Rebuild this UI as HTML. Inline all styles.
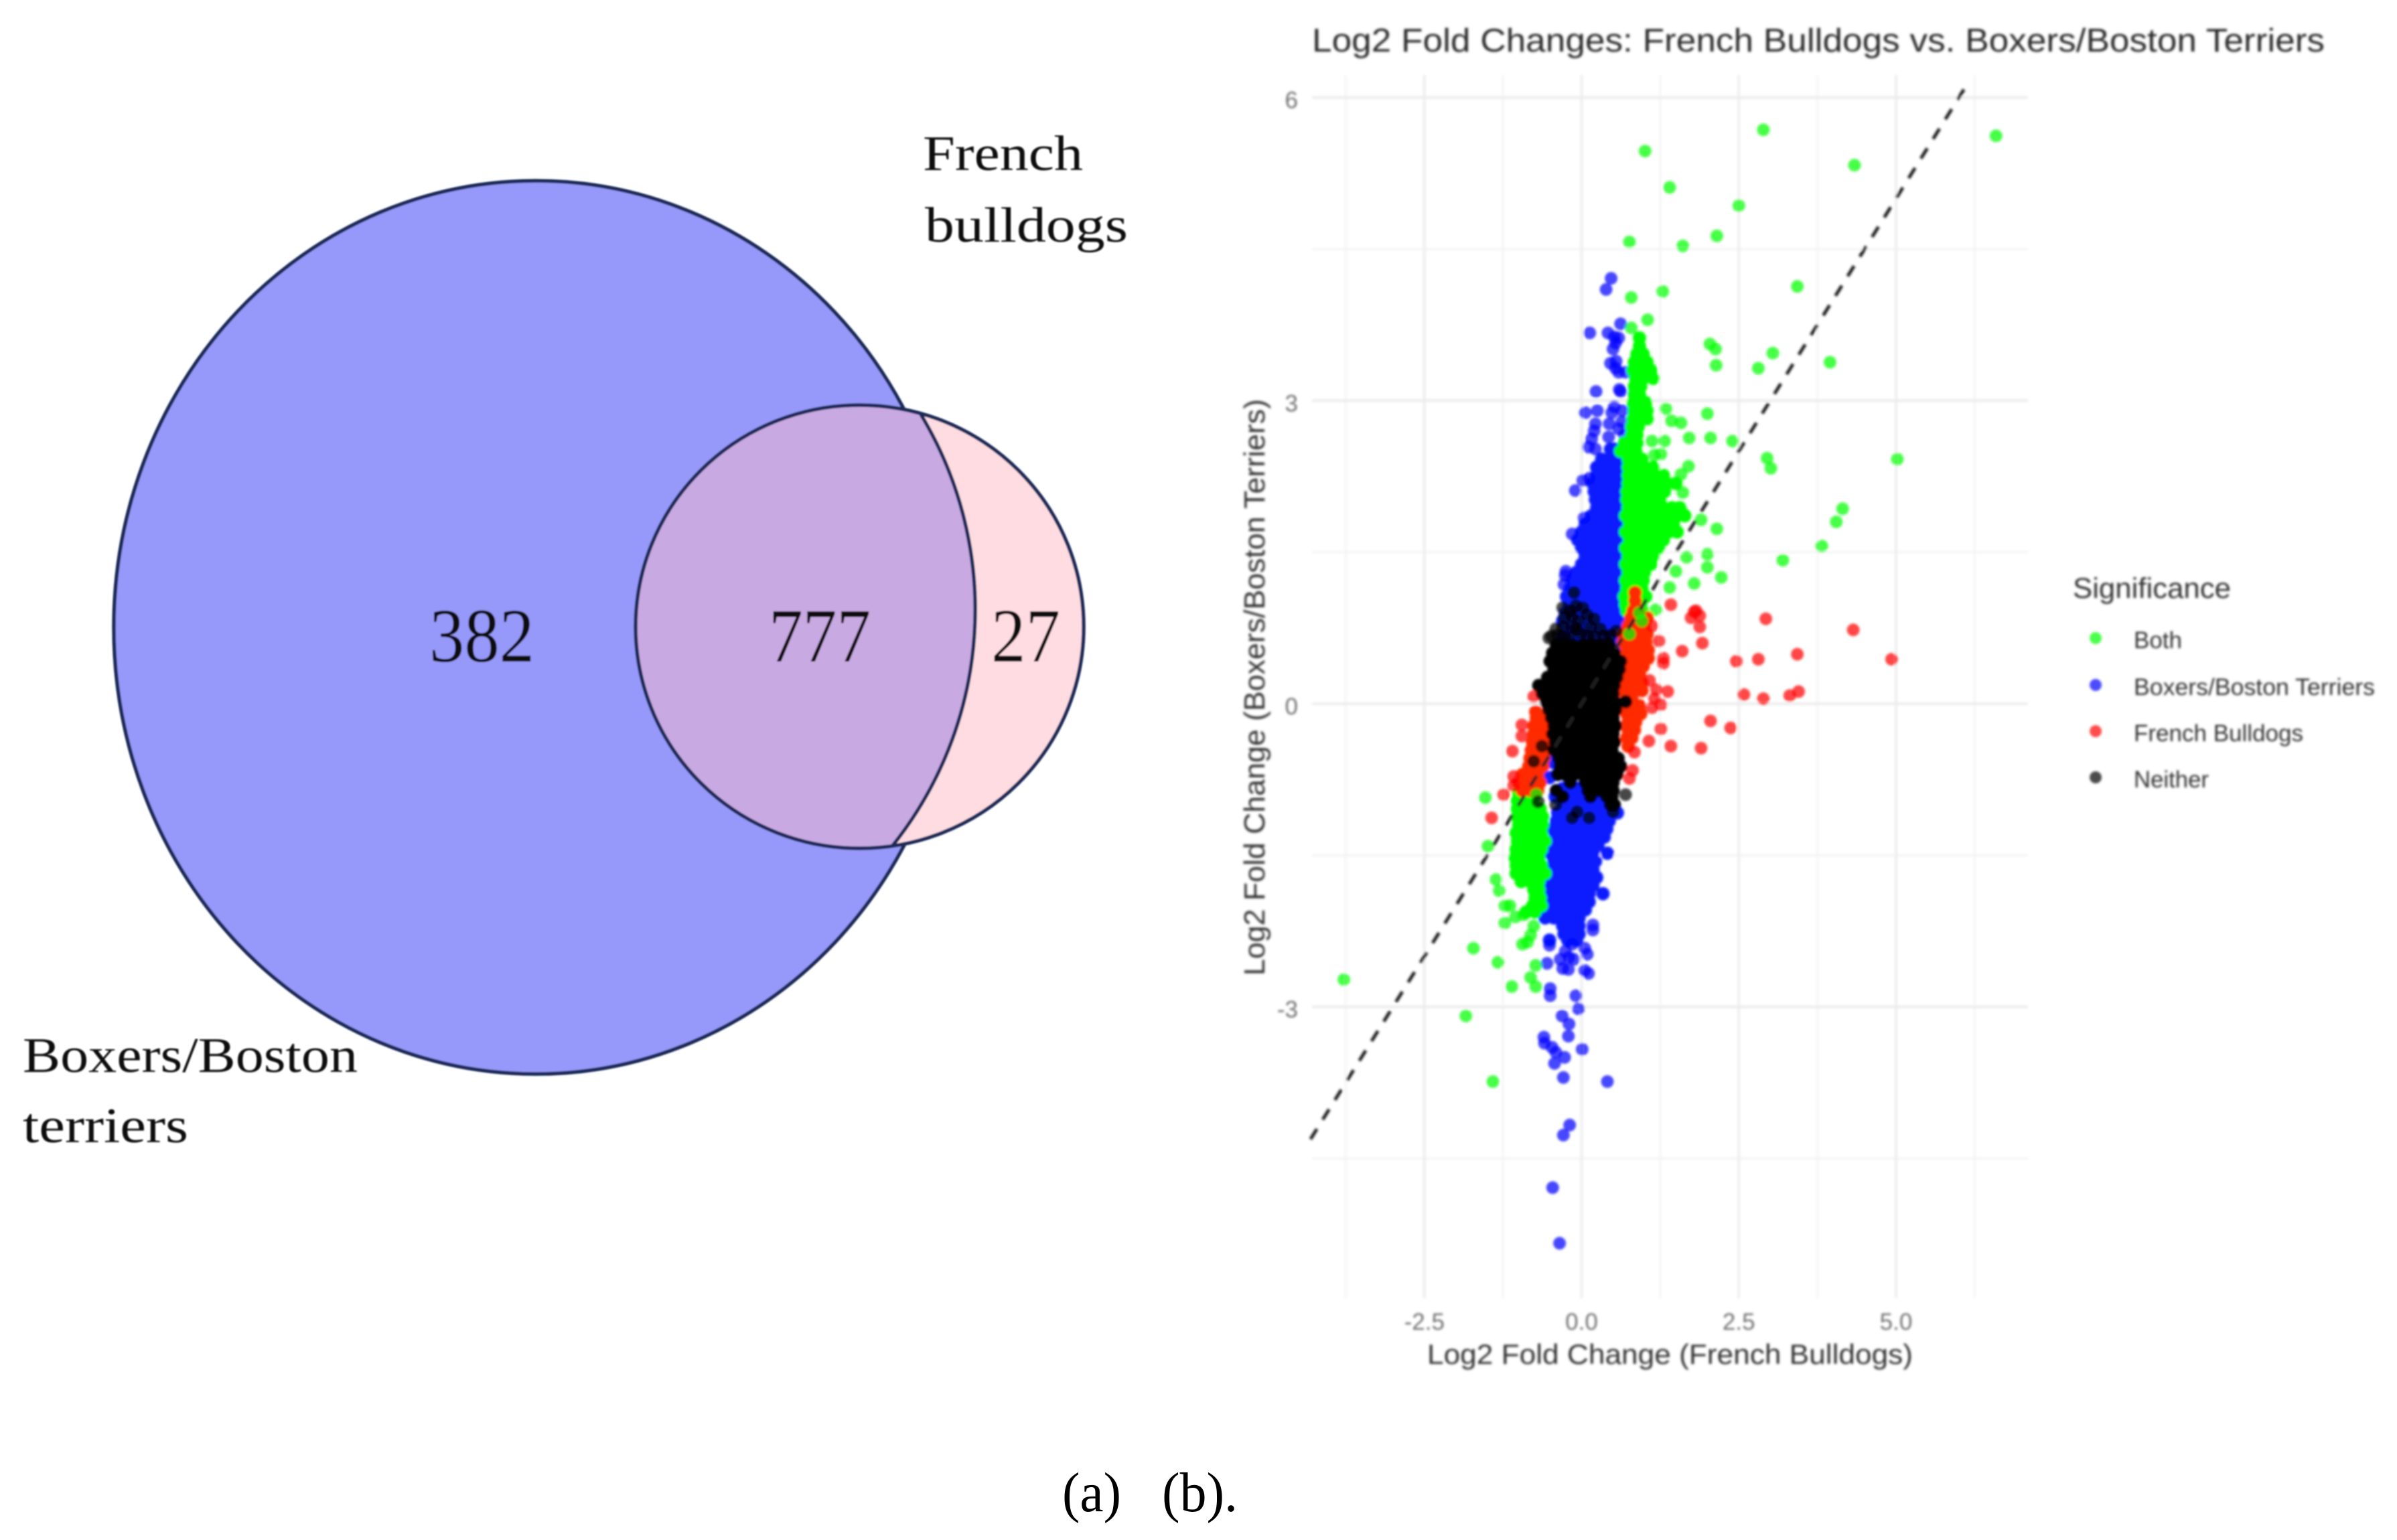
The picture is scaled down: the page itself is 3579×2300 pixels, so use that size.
<!DOCTYPE html>
<html lang="en">
<head>
<meta charset="utf-8">
<title>Venn diagram and Log2 fold change scatter</title>
<style>
html,body{margin:0;padding:0;background:#fff;width:3579px;height:2300px;overflow:hidden}
svg{display:block;position:absolute;left:0;top:0}
text{font-family:"Liberation Sans",sans-serif}
.serif{font-family:"Liberation Serif",serif;fill:#0a0a0a}
</style>
</head>
<body>
<svg id="figure" width="3579" height="2300" viewBox="0 0 3579 2300" xmlns="http://www.w3.org/2000/svg">
<defs>
<filter id="softChart" x="-2%" y="-2%" width="104%" height="104%"><feGaussianBlur stdDeviation="1.9"/></filter>
<filter id="softVenn" x="-2%" y="-2%" width="104%" height="104%"><feGaussianBlur stdDeviation="1"/></filter>
<clipPath id="panelClip"><rect x="1950" y="100" width="1085" height="1845"/></clipPath>
</defs>
<rect width="3579" height="2300" fill="#ffffff"/>

<g id="venn" filter="url(#softVenn)">
  <ellipse cx="800" cy="937" rx="630" ry="667" fill="#9699fa" stroke="#1c2a58" stroke-width="5.5"/>
  <ellipse cx="1283.5" cy="936" rx="334.5" ry="331" fill="#ffdce2"/>
  <path d="M1375 619 A565 565 0 0 1 1332 1264 A334.5 331 0 1 1 1375 619 Z" fill="#c8a9e2" stroke="none"/>
  <path d="M1375 619 A565 565 0 0 1 1332 1264" fill="none" stroke="#1c2a58" stroke-width="5.5"/>
  <ellipse cx="1283.5" cy="936" rx="334.5" ry="331" fill="none" stroke="#1c2a58" stroke-width="5.5"/>
  <text class="serif" x="641" y="988" font-size="114" textLength="157" lengthAdjust="spacingAndGlyphs">382</text>
  <text class="serif" x="1148" y="988" font-size="114" textLength="152" lengthAdjust="spacingAndGlyphs">777</text>
  <text class="serif" x="1480" y="988" font-size="114" textLength="103" lengthAdjust="spacingAndGlyphs">27</text>
  <text class="serif" x="1378" y="254" font-size="74" textLength="239" lengthAdjust="spacingAndGlyphs">French</text>
  <text class="serif" x="1381" y="361" font-size="74" textLength="303" lengthAdjust="spacingAndGlyphs">bulldogs</text>
  <text class="serif" x="34" y="1601" font-size="74" textLength="500" lengthAdjust="spacingAndGlyphs">Boxers/Boston</text>
  <text class="serif" x="34" y="1706" font-size="74" textLength="247" lengthAdjust="spacingAndGlyphs">terriers</text>
</g>

<g id="chart" filter="url(#softChart)">
  <g id="grid"></g>
  <g id="points" clip-path="url(#panelClip)"></g>
  <g id="refline"></g>
  <g id="ticks"></g>
  <text x="1959" y="77" font-size="49" fill="#2b2b2b" textLength="1512" lengthAdjust="spacingAndGlyphs">Log2 Fold Changes: French Bulldogs vs. Boxers/Boston Terriers</text>
  <text x="2131" y="2037" font-size="42" fill="#333333" textLength="725" lengthAdjust="spacingAndGlyphs">Log2 Fold Change (French Bulldogs)</text>
  <text transform="translate(1888,1457) rotate(-90)" x="0" y="0" font-size="44" fill="#333333" textLength="861" lengthAdjust="spacingAndGlyphs">Log2 Fold Change (Boxers/Boston Terriers)</text>
  <g>
    <text x="3095" y="893" font-size="43" fill="#333333" textLength="236" lengthAdjust="spacingAndGlyphs">Significance</text>
    <circle cx="3129" cy="953" r="9" fill="#00ff00" fill-opacity="0.7"/>
    <text x="3186" y="968" font-size="35" fill="#333333" textLength="72" lengthAdjust="spacingAndGlyphs">Both</text>
    <circle cx="3129" cy="1023" r="9" fill="#0000ff" fill-opacity="0.7"/>
    <text x="3186" y="1038" font-size="35" fill="#333333" textLength="360" lengthAdjust="spacingAndGlyphs">Boxers/Boston Terriers</text>
    <circle cx="3129" cy="1092" r="9" fill="#ff0000" fill-opacity="0.7"/>
    <text x="3186" y="1107" font-size="35" fill="#333333" textLength="253" lengthAdjust="spacingAndGlyphs">French Bulldogs</text>
    <circle cx="3129" cy="1161" r="9" fill="#000000" fill-opacity="0.7"/>
    <text x="3186" y="1176" font-size="35" fill="#333333" textLength="112" lengthAdjust="spacingAndGlyphs">Neither</text>
  </g>
</g>

<text class="serif" x="1586" y="2257" font-size="84" textLength="88" lengthAdjust="spacingAndGlyphs" style="fill:#000">(a)</text>
<text class="serif" x="1735" y="2257" font-size="84" textLength="113" lengthAdjust="spacingAndGlyphs" style="fill:#000">(b).</text>
</svg>

<script>
// Axis ticks
const xTickValues = [-2.5, 0, 2.5, 5];
const xTickLabels = ["-2.5", "0.0", "2.5", "5.0"];
const yTickValues = [-3, 0, 3, 6];
const yTickLabels = ["-3", "0", "3", "6"];
const xMinorValues = [-3.75, -1.25, 1.25, 3.75, 6.25];
const yMinorValues = [-4.5, -1.5, 1.5, 4.5];
const refLineEnds = [-4.31, 6.15];

// Isolated points as [log2FC French, log2FC Boxers]
const bothOutliers = [
[2.89,5.68],[6.59,5.62],[1.01,5.47],[4.34,5.33],[1.40,5.11],[2.50,4.93],[2.15,4.63],[0.76,4.57],[1.61,4.53],[3.43,4.13],
[1.29,4.08],[0.79,4.02],[1.05,3.80],[0.79,3.72],[2.04,3.56],[2.13,3.51],[2.14,3.35],[3.04,3.47],[2.81,3.32],[3.95,3.38],
[2.00,2.87],[1.34,2.92],[1.43,2.80],[1.58,2.78],[1.71,2.63],[2.05,2.63],[2.40,2.60],[2.95,2.43],[3.01,2.33],[5.02,2.42],
[4.15,1.93],[4.05,1.80],[3.82,1.56],[3.20,1.42],[1.32,2.60],[1.12,2.60],[1.26,2.47],[1.16,2.46],[1.70,2.35],[1.58,2.27],
[1.61,2.09],[1.64,1.87],[1.90,1.82],[2.15,1.73],[2.00,1.48],[2.00,1.35],[2.22,1.25],[1.79,1.19],[1.67,1.45],[1.50,1.31],
[1.40,1.15],[1.18,0.93],
[-3.78,-2.73],[-1.84,-3.09],[-1.41,-3.74],[-1.11,-2.80],[-1.72,-2.42],[-1.33,-2.56],[-0.73,-2.59],[-0.81,-2.71],[-0.73,-2.80],
[-0.94,-2.38],[-0.86,-2.36],[-0.81,-2.29],[-0.76,-2.20],[-1.22,-2.17],[-1.05,-2.11],[-0.92,-2.09],[-1.22,-2.00],[-1.14,-2.00],
[-1.31,-1.85],[-1.36,-1.74],[-1.49,-1.41],[-1.53,-0.93]
];
const boxersOutliers = [
[0.47,4.21],[0.39,4.10],[0.62,3.76],[0.13,3.67],[0.42,3.67],[0.52,3.63],[0.59,3.62],[0.54,3.57],[0.50,3.51],[0.46,3.37],
[0.55,3.39],[0.54,3.32],[0.59,3.28],[0.70,3.28],[0.60,3.11],[0.62,3.09],[0.23,3.09],[0.06,2.88],[0.25,2.90],[0.52,2.94],
[0.48,2.88],[0.65,2.90],[0.44,2.77],[0.22,2.77],[0.20,2.70],[0.16,2.62],[0.43,2.64],[0.64,2.79],[0.68,2.66],[0.59,2.72],
[0.11,2.54],[0.22,2.52],[-0.10,2.11],[0.02,2.21],[0.12,2.23],[0.04,1.84],[-0.15,1.68],[-0.26,1.27],[-0.28,1.18],[-0.25,1.31],
[0.18,-2.19],[0.18,-2.24],[-0.51,-2.39],[-0.26,-2.45],[-0.15,-2.38],[0.05,-2.42],[0.09,-2.48],[-0.20,-2.51],[-0.12,-2.53],
[-0.34,-2.53],[-0.55,-2.57],[-0.30,-2.62],[-0.21,-2.63],[0.05,-2.64],[0.11,-2.67],[-0.50,-2.82],[-0.50,-2.89],[-0.09,-2.89],
[-0.05,-3.02],[-0.31,-3.09],[-0.20,-3.17],[-0.21,-3.29],[-0.60,-3.30],[-0.59,-3.36],[-0.47,-3.40],[-0.41,-3.45],[-0.27,-3.50],
[0.01,-3.42],[-0.43,-3.56],[-0.29,-3.70],[0.41,-3.74],[-0.19,-4.17],[-0.29,-4.27],[-0.46,-4.79],[-0.35,-5.34]
];
const frenchOutliers = [
[2.93,0.84],[4.32,0.73],[4.93,0.44],[3.43,0.49],[2.81,0.44],[2.46,0.42],[1.82,0.92],[1.79,0.91],[1.88,0.87],[1.74,0.85],
[1.88,0.76],[1.92,0.60],[1.42,0.98],[1.60,0.52],[1.30,0.45],[1.30,0.40],[1.23,0.62],[1.12,0.77],[2.58,0.09],[2.89,0.05],
[3.31,0.08],[3.45,0.12],[1.37,0.12],[1.19,0.14],[1.08,0.23],[1.16,0.05],[1.26,-0.01],[1.12,-0.04],[1.26,-0.25],[1.07,-0.37],
[1.42,-0.42],[1.90,-0.44],[2.05,-0.17],[2.37,-0.24],[0.84,-0.48],[0.81,-0.66],[0.76,-0.74],[-0.76,0.07],[-0.95,-0.21],
[-0.95,-0.32],[-1.10,-0.47],[-1.08,-0.72],[-1.08,-0.81],[-1.24,-0.90],[-1.43,-1.13]
];
const bothOverFrench = [[0.96,0.82],[0.76,0.69],[0.92,0.90],[-0.72,-0.90]];
const neitherOutliers = [
[-0.12,1.10],[-0.09,0.97],[0.09,0.88],[-0.15,0.87],[-0.04,0.82],[-0.48,0.67],[-0.41,0.74],[-0.52,0.65],[0.55,0.72],
[-0.15,0.76],[-0.20,0.65],[0.09,0.67],[-0.30,0.95],[-0.18,0.92],[0.02,0.95],[-0.28,0.85],[0.20,0.84],[-0.30,0.76],[-0.08,0.74],
[0.14,0.76],[0.30,0.74],[-0.38,0.68],[-0.28,0.66],[-0.02,0.70],[0.20,0.66],[0.36,0.67],[0.46,0.68],
[-0.63,-0.42],[-0.76,-0.57],[-0.41,-1.00],[-0.07,-1.07],[-0.15,-1.13],[0.12,-1.13],
[0.50,-1.07],[-0.69,-0.97],[0.70,-0.90]
];

// Dense clouds as rows: [log2FC Boxers, then each log2FC French read along that row]
const bothUpperRows = [
[3.62,.92],[3.54,.92],[3.46,.88,.98],[3.38,.84,.94,1.04],[3.30,.82,.92,1.10],[3.22,.86,.98,1.14],[3.14,.84,.94],
[3.06,.84,.92],[2.98,.82,.92,1.02],[2.90,.84,.94,1.04],[2.82,.82,.92,1.04],[2.74,.80,.90],[2.66,.80,.88],[2.58,.68,.78,.88],
[2.50,.62,.74,.86],[2.42,.74,.84,.96],[2.34,.74,.86,1.0,1.14],[2.26,.74,.80,.90,1.02,1.16,1.30],
[2.18,.74,.80,.88,.98,1.10,1.22,1.36,1.50],[2.10,.72,.84,.96,1.08,1.20,1.32],[2.02,.72,.86,1.0,1.14,1.24],
[1.94,.74,.88,1.02,1.16,1.30,1.44,1.56],[1.86,.70,.84,.98,1.12,1.26,1.40,1.52,1.64],[1.78,.76,.90,1.04,1.18,1.32,1.46],
[1.70,.70,.84,.98,1.12,1.26,1.38,1.52],[1.62,.76,.90,1.04,1.18,1.30],[1.54,.70,.84,.98,1.12,1.22],[1.46,.74,.88,1.02,1.14],
[1.38,.70,.84,.98,1.10],[1.30,.74,.88,1.00],[1.22,.70,.84,.98],[1.14,.72,.84,.96],[1.06,.68,.80,.92,1.02],[.98,.70,.82,.94],
[.92,.72,.84,.96]
];
const bothLowerRows = [
[-.88,-1.0,-.86],[-.96,-1.02,-.90,-.78],[-1.04,-1.02,-.90,-.78,-.66],[-1.12,-1.02,-.90,-.76,-.62],[-1.20,-1.0,-.88,-.74,-.62],
[-1.28,-1.04,-.90,-.76,-.64],[-1.36,-1.02,-.88,-.74,-.64,-.58],[-1.44,-1.04,-.90,-.76,-.64],[-1.52,-1.06,-.92,-.78,-.68],
[-1.60,-1.04,-.90,-.76,-.64],[-1.68,-1.04,-.90,-.76,-.62,-.58],[-1.76,-.96,-.82,-.68],[-1.84,-.76,-.68],[-1.92,-.74,-.66],
[-2.00,-.78,-.68,-.64],[-2.06,-.88,-.74]
];
const boxersUpperRows = [
[2.52,.46,.52],[2.42,.32,.45,.58],[2.34,.24,.36,.50,.62],[2.26,.24,.36,.50,.62],[2.18,.18,.30,.44,.56,.66],[2.10,.20,.32,.46,.58],
[2.02,.22,.36,.48,.60],[1.94,.24,.36,.50,.62],[1.86,.16,.30,.42,.56,.66],[1.78,.06,.18,.32,.46,.58],[1.70,.00,.12,.26,.40,.52,.64],
[1.62,-.06,.08,.20,.34,.46,.60],[1.54,.00,.14,.26,.40,.54,.66],[1.46,.06,.18,.32,.44,.58],[1.38,.0,.12,.26,.40,.52,.62],
[1.30,-.08,.04,.18,.32,.44,.58],[1.22,-.14,.00,.12,.26,.38,.52,.64],[1.14,-.18,-.06,.08,.20,.34,.46,.60],
[1.06,-.24,-.12,.00,.14,.26,.40,.52],[.98,-.20,-.08,.06,.18,.32,.44,.58],[.90,-.26,-.14,.00,.12,.26,.38,.52],
[.82,-.30,-.18,-.06,.06,.20,.32,.46,.60],[.74,-.22,-.10,.02,.14,.28,.40,.54],[.66,-.30,-.16,-.04,.10,.22,.34,.48],
[.58,-.20,-.08,.06,.18,.30,.44,.54]
];
const boxersLowerRows = [
[-.58,-.46],[-.73,-.51],[-.84,-.30,-.18,-.05,.08],[-.92,-.42,-.26,-.12,.02,.16,.30],[-1.0,-.30,-.16,-.04,.10,.24,.36],
[-1.08,-.38,-.24,-.10,.04,.18,.32,.46,.57],[-1.16,-.40,-.28,-.14,0,.14,.28,.44],[-1.24,-.46,-.32,-.18,-.04,.10,.24,.40],
[-1.32,-.42,-.28,-.14,0,.14,.28,.36],[-1.40,-.60,-.46,-.32,-.18,-.04,.10,.26],[-1.48,-.50,-.36,-.22,-.08,.06,.18,.41],
[-1.56,-.44,-.30,-.16,-.02,.12,.22],[-1.64,-.50,-.36,-.22,-.08,.06,.18],[-1.72,-.60,-.46,-.32,-.18,-.04,.10,.24],
[-1.80,-.52,-.38,-.24,-.10,.04,.18],[-1.88,-.58,-.44,-.30,-.16,-.02,.12,.34],[-1.96,-.50,-.36,-.22,-.08,.06,.12],
[-2.04,-.56,-.42,-.28,-.14,0,.06],[-2.12,-.58,-.44,-.30,-.16,-.04],[-2.20,-.30,-.18,-.04],[-2.28,-.28,-.14,-.04],[-2.34,-.51,-.22,-.08]
];
const frenchRightRows = [
[1.10,.85],[1.02,.85],[.92,.82,.90],[.85,.78,.92,1.04],[.77,.74,.86,1.0],[.69,.66,.78,.92,1.04],[.61,.66,.78,.90,1.02],
[.53,.72,.84,.96,1.06],[.45,.72,.84,.96,1.06],[.37,.74,.86,.98],[.29,.74,.84,.92],[.21,.72,.84,.96],[.13,.58,.70,.84,.96],
[.07,.80],[-.02,.72,.84,.92],[-.10,.72,.84,.94],[-.18,.74,.86],[-.26,.74,.84],[-.34,.72,.80],[-.42,.74]
];
const frenchLeftRows = [
[-.08,-.73],[-.14,-.72,-.62],[-.22,-.76,-.62],[-.30,-.76,-.64,-.54],[-.38,-.78,-.66,-.56],[-.46,-.80,-.68,-.58],[-.54,-.82,-.70,-.60],
[-.62,-.84,-.72,-.62],[-.70,-.94,-.82,-.70],[-.78,-1.0,-.88,-.76,-.66],[-.86,-.94,-.80,-.70]
];
const neitherRows = [
[.58,-.40,-.26,-.12,.02,.16,.30,.44],[.50,-.46,-.32,-.18,-.04,.10,.24,.38,.52],[.42,-.50,-.36,-.22,-.08,.06,.20,.34,.48,.62],
[.34,-.44,-.30,-.16,-.02,.12,.26,.40,.54,.60],[.26,-.54,-.38,-.24,-.10,.04,.18,.32,.46,.56],
[.18,-.68,-.56,-.42,-.28,-.14,0,.14,.28,.42,.52],[.10,-.62,-.48,-.34,-.20,-.06,.08,.22,.36,.50],
[.02,-.56,-.42,-.28,-.14,.0,.14,.28,.42,.52,.70],[-.06,-.52,-.38,-.24,-.10,.04,.18,.32,.46,.54],
[-.14,-.48,-.34,-.20,-.06,.08,.22,.36,.50],[-.22,-.44,-.30,-.16,-.02,.12,.26,.40,.54],[-.30,-.46,-.34,-.20,-.06,.08,.22,.36,.50],
[-.38,-.42,-.30,-.16,-.02,.12,.26,.40,.52],[-.46,-.44,-.34,-.20,-.06,.08,.22,.36,.48],[-.54,-.36,-.26,-.12,.02,.16,.30,.44,.58],
[-.62,-.34,-.20,-.06,.08,.22,.36,.50,.62],[-.70,-.38,-.26,-.12,.02,.16,.30,.44,.56],[-.78,-.18,.06,.26,.38,.50],
[-.86,-.40,.10,.28,.44,.50],[-.92,-.30,.14,.40,.48],[-1.00,.46,.52]
];

const SVG_NS = "http://www.w3.org/2000/svg";
const panel = { left: 1959, right: 3028, top: 112, bottom: 1939 };
function xScale(v) { return 2361.5 + v * 93.9; }
function yScale(v) { return 1051 - v * 150.9; }

const grid = document.getElementById("grid");
const ticks = document.getElementById("ticks");
const pointsLayer = document.getElementById("points");
const refLayer = document.getElementById("refline");

function addGridLine(x1, y1, x2, y2, color, width, name) {
  const line = document.createElementNS(SVG_NS, "line");
  line.setAttribute("x1", x1);
  line.setAttribute("y1", y1);
  line.setAttribute("x2", x2);
  line.setAttribute("y2", y2);
  line.setAttribute("stroke", color);
  line.setAttribute("stroke-width", width);
  
  
  grid.appendChild(line);
}
xMinorValues.forEach(function (v) { addGridLine(xScale(v), panel.top, xScale(v), panel.bottom, "#f4f4f4", 3, "x-minor-gridline"); });
yMinorValues.forEach(function (v) { addGridLine(panel.left, yScale(v), panel.right, yScale(v), "#f3f3f3", 3, "y-minor-gridline"); });
xTickValues.forEach(function (v) { addGridLine(xScale(v), panel.top, xScale(v), panel.bottom, "#eeeeee", 4, "x-major-gridline"); });
yTickValues.forEach(function (v) { addGridLine(panel.left, yScale(v), panel.right, yScale(v), "#ececec", 4, "y-major-gridline"); });

function addTick(label, x, y, anchor, name) {
  const t = document.createElementNS(SVG_NS, "text");
  t.setAttribute("x", x);
  t.setAttribute("y", y);
  t.setAttribute("text-anchor", anchor);
  t.setAttribute("font-size", "35");
  t.setAttribute("fill", "#707070");
  
  
  t.textContent = label;
  ticks.appendChild(t);
}
xTickValues.forEach(function (v, i) { addTick(xTickLabels[i], xScale(v), 1986, "middle", "x-tick-label"); });
yTickValues.forEach(function (v, i) { addTick(yTickLabels[i], 1938, yScale(v) + 16, "end", "y-tick-label"); });

function addPoint(x, y, color, name, r, opacity) {
  const c = document.createElementNS(SVG_NS, "circle");
  c.setAttribute("cx", xScale(x).toFixed(1));
  c.setAttribute("cy", yScale(y).toFixed(1));
  c.setAttribute("r", r);
  c.setAttribute("fill", color);
  c.setAttribute("fill-opacity", opacity);
  
  
  pointsLayer.appendChild(c);
}
function drawPairs(pairs, color, name) {
  pairs.forEach(function (p) { addPoint(p[0], p[1], color, name, 9.5, 0.72); });
}
function drawRows(rows, color, name) {
  rows.forEach(function (row) {
    row.slice(1).forEach(function (x) { addPoint(x, row[0], color, name, 10, 1); });
  });
}

drawRows(boxersUpperRows, "#0a1fff", "point-boxers");
drawRows(boxersLowerRows, "#0a1fff", "point-boxers");
drawPairs(boxersOutliers, "#0000ff", "point-boxers");
drawRows(bothUpperRows, "#00ff00", "point-both");
drawRows(bothLowerRows, "#00ff00", "point-both");
drawPairs(bothOutliers, "#00ff00", "point-both");
drawRows(frenchRightRows, "#ff2a00", "point-french");
drawRows(frenchLeftRows, "#ff2a00", "point-french");
drawPairs(frenchOutliers, "#ff0000", "point-french");
drawPairs(bothOverFrench, "#00ff00", "point-both");
drawRows(neitherRows, "#000000", "point-neither");
drawPairs(neitherOutliers, "#000000", "point-neither");

const ref = document.createElementNS(SVG_NS, "line");
ref.setAttribute("x1", xScale(refLineEnds[0]));
ref.setAttribute("y1", yScale(refLineEnds[0]));
ref.setAttribute("x2", xScale(refLineEnds[1]));
ref.setAttribute("y2", yScale(refLineEnds[1]));
ref.setAttribute("stroke", "#222222");
ref.setAttribute("stroke-width", "5");
ref.setAttribute("stroke-dasharray", "18 16.5");


refLayer.appendChild(ref);
</script>
</body>
</html>
